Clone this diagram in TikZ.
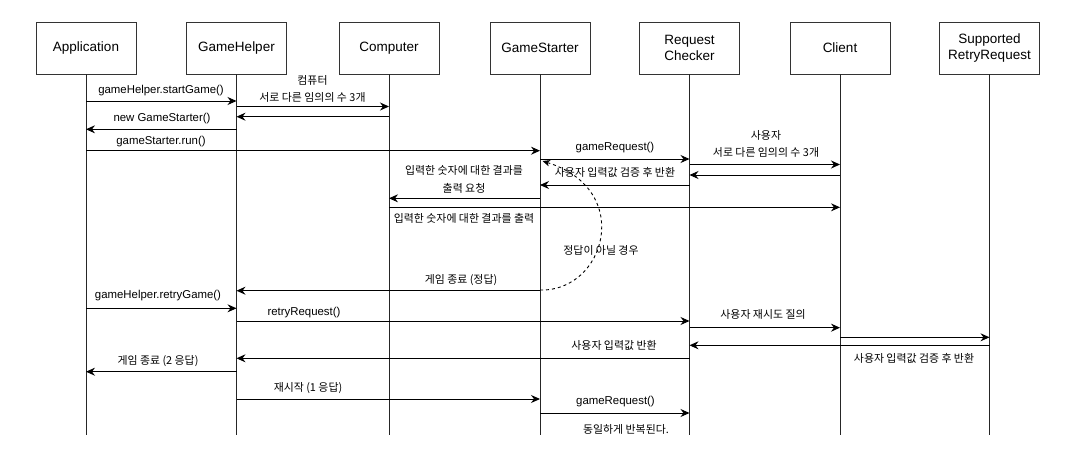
\documentclass[tikz,border=0pt]{standalone}
\usepackage{fontspec}
\setmainfont{Liberation Sans}
\newfontfamily\kr{Noto Sans CJK KR}
\usetikzlibrary{arrows.meta}
\begin{document}
\begin{tikzpicture}[x=1pt,y=-1pt,
 actor/.style={draw=black!80, line width=0.9pt, fill=white, minimum width=100pt, minimum height=52pt, inner sep=0pt, align=center, font=\fontsize{13.5}{16.5}\selectfont},
 life/.style={draw=black!85, line width=0.9pt},
 msg/.style={draw=black, line width=0.95pt, -{Stealth[length=9pt,width=8pt,inset=3pt]}},
 loopback/.style={draw=black, line width=0.9pt, dash pattern=on 3pt off 3pt, -{Stealth[length=7.5pt,width=6.5pt,inset=2.2pt]}},
 lbl/.style={inner sep=0pt, align=center, font=\fontsize{11.4}{17.5}\selectfont},
 klbl/.style={inner sep=0pt, align=center, font=\kr\fontsize{10.9}{17.5}\selectfont},
]
\path[use as bounding box, fill=white] (0,0) rectangle (1068,466);

% actors
\node[actor] (app)  at (86,48)    {Application};
\node[actor] (gh)   at (236.5,48) {GameHelper};
\node[actor] (comp) at (389,48)   {Computer};
\node[actor] (gs)   at (540,48)   {GameStarter};
\node[actor] (rc)   at (689.5,48) {Request\\Checker};
\node[actor] (cl)   at (840,48)   {Client};
\node[actor] (sr)   at (989.5,48) {Supported\\RetryRequest};

% lifeline ends
\coordinate (appE)  at (86,435);
\coordinate (ghE)   at (236.5,435);
\coordinate (compE) at (389,435);
\coordinate (gsE)   at (540,435);
\coordinate (rcE)   at (689.5,435);
\coordinate (clE)   at (840,435);
\coordinate (srE)   at (989.5,435);

\draw[life] (app.south) -- (appE);
\draw[life] (gh.south) -- (ghE);
\draw[life] (comp.south) -- (compE);
\draw[life] (gs.south) -- (gsE);
\draw[life] (rc.south) -- (rcE);
\draw[life] (cl.south) -- (clE);
\draw[life] (sr.south) -- (srE);

% messages
\draw[msg] (app |- 0,101) -- (gh |- 0,101);
\node[lbl] (l1) at (161,90.5) {gameHelper.startGame()};

\draw[msg] (gh |- 0,106.5) -- (comp |- 0,106.5);
\node[klbl] (l2) at (312.5,88.8) {컴퓨터\\서로 다른 임의의 수 3개};

\draw[msg] (comp |- 0,116.7) -- (gh |- 0,116.7);

\draw[msg] (gh |- 0,129.3) -- (app |- 0,129.3);
\node[lbl] (l4) at (162,118.3) {new GameStarter()};

\draw[msg] (app |- 0,150.7) -- (gs |- 0,150.7);
\node[lbl] (l5) at (161,141.7) {gameStarter.run()};

\draw[msg] (gs |- 0,159) -- (rc |- 0,159);
\node[lbl] (l6) at (615,148) {gameRequest()};

\draw[msg] (rc |- 0,164.5) -- (cl |- 0,164.5);
\node[klbl] (l7) at (766,144) {사용자\\서로 다른 임의의 수 3개};

\draw[msg] (cl |- 0,175) -- (rc |- 0,175);

\draw[msg] (rc |- 0,185) -- (gs |- 0,185);
\node[klbl] (l9) at (615,172.5) {사용자 입력값 검증 후 반환};

\draw[msg] (gs |- 0,198.3) -- (comp |- 0,198.3);
\node[klbl] (l10) at (464,179.2) {입력한 숫자에 대한 결과를\\출력 요청};

\draw[msg] (comp |- 0,207.3) -- (cl |- 0,207.3);
\node[klbl] (l11) at (464,218.3) {입력한 숫자에 대한 결과를 출력};

% loop back (not correct answer)
\coordinate (loopS) at (540,290);
\coordinate (loopE) at (542.5,161);
\draw[loopback] (loopS) .. controls (605,292) and (635,190) .. (loopE);
\node[klbl] (l12) at (601,250.5) {정답이 아닐 경우};

\draw[msg] (gs |- 0,290.7) -- (gh |- 0,290.7);
\node[klbl] (l13) at (461,280) {게임 종료 (정답)};

\draw[msg] (app |- 0,308.3) -- (gh |- 0,308.3);
\node[lbl] (l14) at (158,296) {gameHelper.retryGame()};

\draw[msg] (gh |- 0,321) -- (rc |- 0,321);
\node[lbl] (l15) at (304,312.3) {retryRequest()};

\draw[msg] (rc |- 0,327.7) -- (cl |- 0,327.7);
\node[klbl] (l16) at (763,314) {사용자 재시도 질의};

\draw[msg] (cl |- 0,337.3) -- (sr |- 0,337.3);

\draw[msg] (sr |- 0,345.3) -- (rc |- 0,345.3);
\node[klbl] (l18) at (914,358.3) {사용자 입력값 검증 후 반환};

\draw[msg] (rc |- 0,358.3) -- (gh |- 0,358.3);
\node[klbl] (l19) at (614,345.7) {사용자 입력값 반환};

\draw[msg] (gh |- 0,371.7) -- (app |- 0,371.7);
\node[klbl] (l20) at (158,360.7) {게임 종료 (2 응답)};

\draw[msg] (gh |- 0,399) -- (gs |- 0,399);
\node[klbl] (l21) at (308,388) {재시작 (1 응답)};

\draw[msg] (gs |- 0,413) -- (rc |- 0,413);
\node[lbl] (l22) at (615.5,401.7) {gameRequest()};

\node[klbl] (l23) at (626,429) {동일하게 반복된다.};
\end{tikzpicture}
\end{document}
